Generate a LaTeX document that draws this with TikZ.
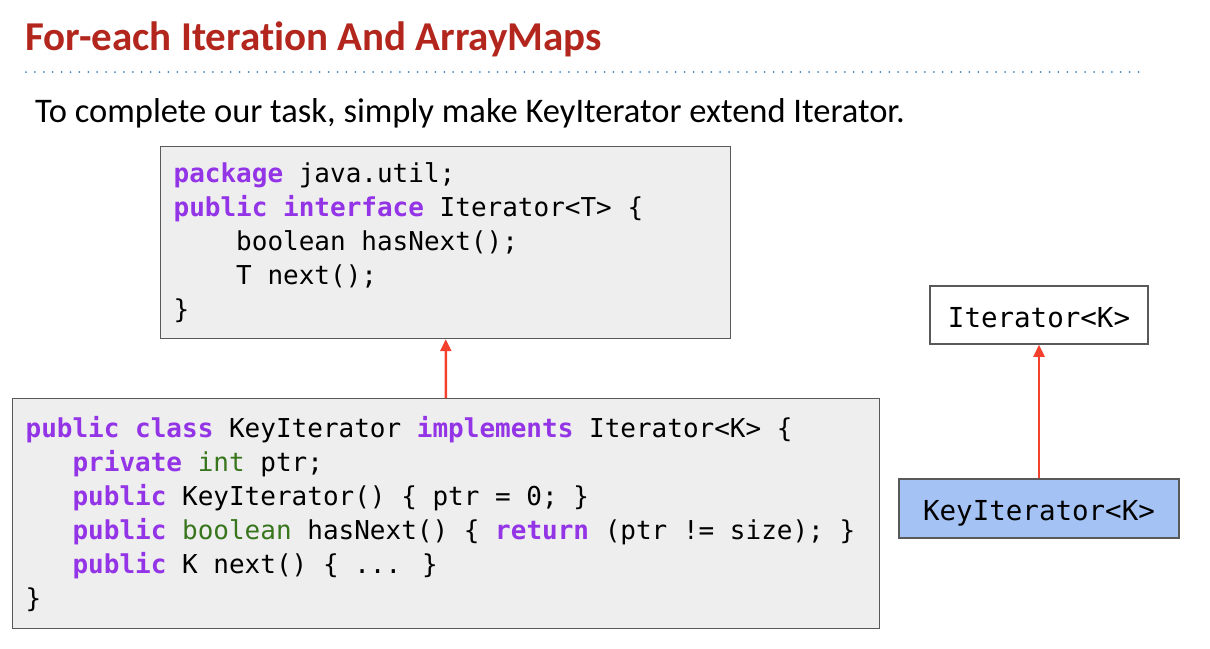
\documentclass[tikz,border=0pt]{standalone}
\usepackage{fontspec}
\setmainfont{Carlito}[Ligatures=NoCommon]
\newfontfamily\codefont{DejaVu Sans Mono}
\usetikzlibrary{positioning,arrows.meta}
\definecolor{titlered}{HTML}{B3261E}
\definecolor{dotblue}{HTML}{3D85C6}
\definecolor{kwpurple}{HTML}{9334E6}
\definecolor{typegreen}{HTML}{38761D}
\definecolor{arrowred}{HTML}{F4412D}
\definecolor{boxgray}{HTML}{EEEEEE}
\definecolor{boxline}{HTML}{595959}
\definecolor{keyblue}{HTML}{A4C2F4}
\newcommand{\kw}[1]{\textcolor{kwpurple}{\textbf{#1}}}
\newcommand{\ty}[1]{\textcolor{typegreen}{#1}}
\newcommand{\ind}[1]{\hphantom{#1}}
% mono text with full-width spaces
\newcommand{\codesize}[2]{\codefont\fontsize{#1}{#2}\selectfont
  \spaceskip=\fontcharwd\font`x\relax}

\begin{document}
\begin{tikzpicture}[x=1pt, y=-1pt,
  codebox/.style={draw=boxline, line width=1.2pt, fill=boxgray,
             inner xsep=13pt, inner ysep=0pt, anchor=north west,
             align=flush left, font=\codesize{26}{34}},
  umlbox/.style={draw=boxline, line width=1.5pt, fill=white,
             inner sep=0pt, text height=24pt, text depth=0pt,
             font=\codesize{27.5}{30}},
  edge/.style={line width=2.4pt, arrowred, -{Triangle[width=11pt,length=12pt]}},
]
\useasboundingbox (0,0) rectangle (1210,648);

% heading and dotted rule
\node[anchor=base west, inner sep=0pt, text=titlered,
      font=\bfseries\fontsize{41}{48}\selectfont] (title) at (25,50)
  {For-each Iteration And ArrayMaps};
\draw[dotblue, line width=2pt, line cap=round, dash pattern=on 0pt off 8.9pt]
  (26,72) -- (1145,72);
\node[anchor=base west, inner sep=0pt, font=\fontsize{34.5}{40}\selectfont] (intro) at (35,122)
  {To complete our task, simply make KeyIterator extend Iterator.};

% code listings
\node[codebox, text width=544pt, minimum height=192pt] (iface) at (160,146)
  {\kw{package} java.util;\\
   \kw{public} \kw{interface} Iterator<T> \{\\
   \ind{xxxx}boolean hasNext();\\
   \ind{xxxx}T next();\\
   \}};
\node[codebox, text width=841pt, minimum height=230pt] (keyclass) at (12,398)
  {\kw{public} \kw{class} KeyIterator \kw{implements} Iterator<K> \{\\
   \ind{xxx}\kw{private} \ty{int} ptr;\\
   \ind{xxx}\kw{public} KeyIterator() \{ ptr = 0; \}\\
   \ind{xxx}\kw{public} \ty{boolean} hasNext() \{ \kw{return} (ptr != size); \}\\
   \ind{xxx}\kw{public} K next() \{ ... \}\\
   \}};
\draw[edge] (keyclass) -- (iface);

% small class diagram
\node[umlbox, minimum width=218pt, minimum height=58pt] (iterk) at (1039,315) {Iterator<K>};
\node[umlbox, fill=keyblue, minimum width=280pt, minimum height=59pt] (keyiter) at (1039,508.5)
  {KeyIterator<K>};
\draw[edge] (keyiter) -- (iterk);
\end{tikzpicture}
\end{document}
